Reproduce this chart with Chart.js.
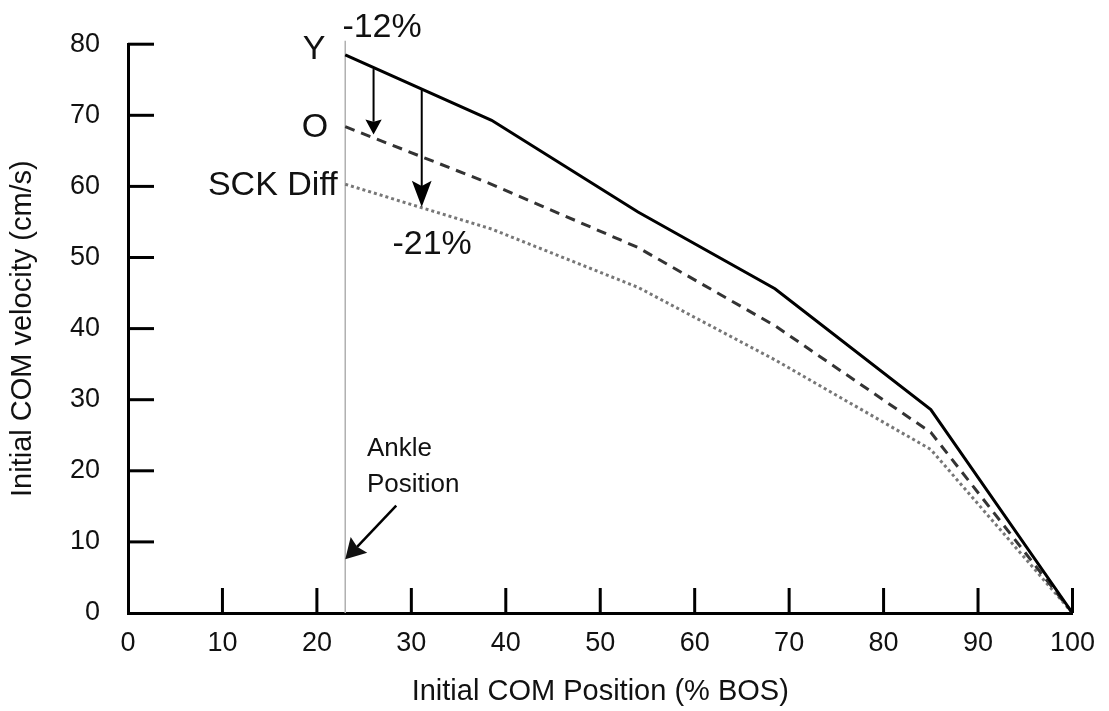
<!DOCTYPE html>
<html>
<head>
<meta charset="utf-8">
<script src="https://cdn.jsdelivr.net/npm/chart.js@4/dist/chart.umd.min.js"></script>
<style>
  html, body { margin: 0; padding: 0; background: #fff; }
  #wrap { width: 1109px; height: 711px; }
</style>
</head>
<body>
<div id="wrap"><canvas id="c"></canvas></div>
<script>
// initial COM position (% BOS)
const positions = [23, 38.5, 54, 68.5, 85, 100];
const youngVel = [78.5, 69.3, 56.4, 45.6, 28.6, 0];
const olderVel = [68.4, 60.3, 51.4, 40.4, 25.4, 0];
const sckVel = [60.3, 54.0, 45.8, 35.6, 23.0, 0];

const xTicks = [0, 10, 20, 30, 40, 50, 60, 70, 80, 90, 100];
const yTicks = [0, 10, 20, 30, 40, 50, 60, 70, 80];

const anklePos = 23;
// [x, yFrom, yTo, head length, head angle]
const diffArrows = [
  [26, 76.5, 67.3, 17, 0.5],
  [31.1, 73.7, 57.1, 28, 0.36],
];

const FONT = "'Liberation Sans', Arial, sans-serif";

const pts = (ys) => positions.map((x, i) => ({ x, y: ys[i] }));

function arrow(ctx, x1, y1, x2, y2, head, ang) {
  const a = Math.atan2(y2 - y1, x2 - x1);
  const back = head * 0.75;
  ctx.beginPath();
  ctx.moveTo(x1, y1);
  ctx.lineTo(x2 - Math.cos(a) * back, y2 - Math.sin(a) * back);
  ctx.stroke();
  ctx.beginPath();
  ctx.moveTo(x2, y2);
  ctx.lineTo(x2 - head * Math.cos(a - ang), y2 - head * Math.sin(a - ang));
  ctx.lineTo(x2 - back * Math.cos(a), y2 - back * Math.sin(a));
  ctx.lineTo(x2 - head * Math.cos(a + ang), y2 - head * Math.sin(a + ang));
  ctx.closePath();
  ctx.fill();
}

const decor = {
  id: 'decor',
  beforeDatasetsDraw(chart) {
    const { ctx, scales: { x, y } } = chart;
    const ax = x.getPixelForValue(anklePos);
    ctx.save();
    ctx.strokeStyle = '#b0b0b0';
    ctx.lineWidth = 1.5;
    ctx.beginPath();
    ctx.moveTo(ax, y.getPixelForValue(0));
    ctx.lineTo(ax, y.getPixelForValue(80.5));
    ctx.stroke();
    ctx.restore();
  },
  afterDraw(chart) {
    const { ctx, scales: { x, y } } = chart;
    ctx.save();
    // inward tick marks
    ctx.strokeStyle = '#000';
    ctx.lineWidth = 3;
    const y0 = y.getPixelForValue(0);
    const x0 = x.getPixelForValue(0);
    xTicks.slice(1).forEach(v => {
      const px = x.getPixelForValue(v);
      ctx.beginPath(); ctx.moveTo(px, y0); ctx.lineTo(px, y0 - 25); ctx.stroke();
    });
    yTicks.slice(1).forEach(v => {
      const py = y.getPixelForValue(v);
      ctx.beginPath(); ctx.moveTo(x0, py); ctx.lineTo(x0 + 26, py); ctx.stroke();
    });

    // difference arrows
    ctx.lineWidth = 2;
    ctx.fillStyle = '#000';
    diffArrows.forEach(([vx, a, b, h, ang]) => {
      const px = x.getPixelForValue(vx);
      arrow(ctx, px, y.getPixelForValue(a), px, y.getPixelForValue(b), h, ang);
    });

    // text labels
    ctx.fillStyle = '#111';
    ctx.textBaseline = 'alphabetic';
    ctx.font = '34px ' + FONT;
    ctx.textAlign = 'right';
    ctx.fillText('Y', x.getPixelForValue(20.9), y.getPixelForValue(77.9));
    ctx.fillText('O', x.getPixelForValue(21.2), y.getPixelForValue(67.0));
    ctx.fillText('SCK Diff', x.getPixelForValue(22.2), y.getPixelForValue(58.8));
    ctx.textAlign = 'center';
    ctx.fillText('-12%', x.getPixelForValue(26.9), y.getPixelForValue(80.95));
    ctx.fillText('-21%', x.getPixelForValue(32.2), y.getPixelForValue(50.5));

    ctx.font = '26px ' + FONT;
    ctx.textAlign = 'left';
    ctx.fillText('Ankle', x.getPixelForValue(25.3), y.getPixelForValue(22.1));
    ctx.fillText('Position', x.getPixelForValue(25.3), y.getPixelForValue(16.95));
    ctx.lineWidth = 2.5;
    arrow(ctx, x.getPixelForValue(28.4), y.getPixelForValue(15.1),
      x.getPixelForValue(23.0), y.getPixelForValue(7.55), 23, 0.52);
    ctx.restore();
  }
};

new Chart(document.getElementById('c'), {
  type: 'line',
  data: {
    datasets: [
      { label: 'Y', data: pts(youngVel), borderColor: '#000', borderWidth: 3 },
      { label: 'O', data: pts(olderVel), borderColor: '#333', borderWidth: 3, borderDash: [10, 7] },
      { label: 'SCK Diff', data: pts(sckVel), borderColor: '#777', borderWidth: 3, borderDash: [3, 3] },
    ],
  },
  options: {
    responsive: true,
    maintainAspectRatio: false,
    animation: false,
    elements: { point: { radius: 0 }, line: { tension: 0 } },
    layout: { padding: { top: 42, right: 36, left: 0, bottom: 0 } },
    plugins: { legend: { display: false }, tooltip: { enabled: false } },
    scales: {
      x: {
        type: 'linear',
        min: 0,
        max: 100,
        afterBuildTicks: (s) => { s.ticks = xTicks.map(value => ({ value })); },
        afterFit: (s) => { s.height = 98; },
        grid: { display: false, drawTicks: false },
        border: { display: true, color: '#000', width: 3 },
        ticks: { color: '#111', padding: 14, font: { size: 27, family: FONT } },
        title: {
          display: true,
          text: 'Initial COM Position (% BOS)',
          color: '#111',
          font: { size: 29, family: FONT },
          padding: { top: 10, bottom: 2 },
        },
      },
      y: {
        min: 0,
        max: 80,
        afterBuildTicks: (s) => { s.ticks = yTicks.map(value => ({ value })); },
        afterFit: (s) => { s.width = 128; },
        grid: { display: false, drawTicks: false },
        border: { display: true, color: '#000', width: 3 },
        ticks: { color: '#111', padding: 28, font: { size: 27, family: FONT } },
        title: {
          display: true,
          text: 'Initial COM velocity (cm/s)',
          color: '#111',
          font: { size: 29, family: FONT },
          padding: { top: 6 },
        },
      },
    },
  },
  plugins: [decor],
});
</script>
</body>
</html>
